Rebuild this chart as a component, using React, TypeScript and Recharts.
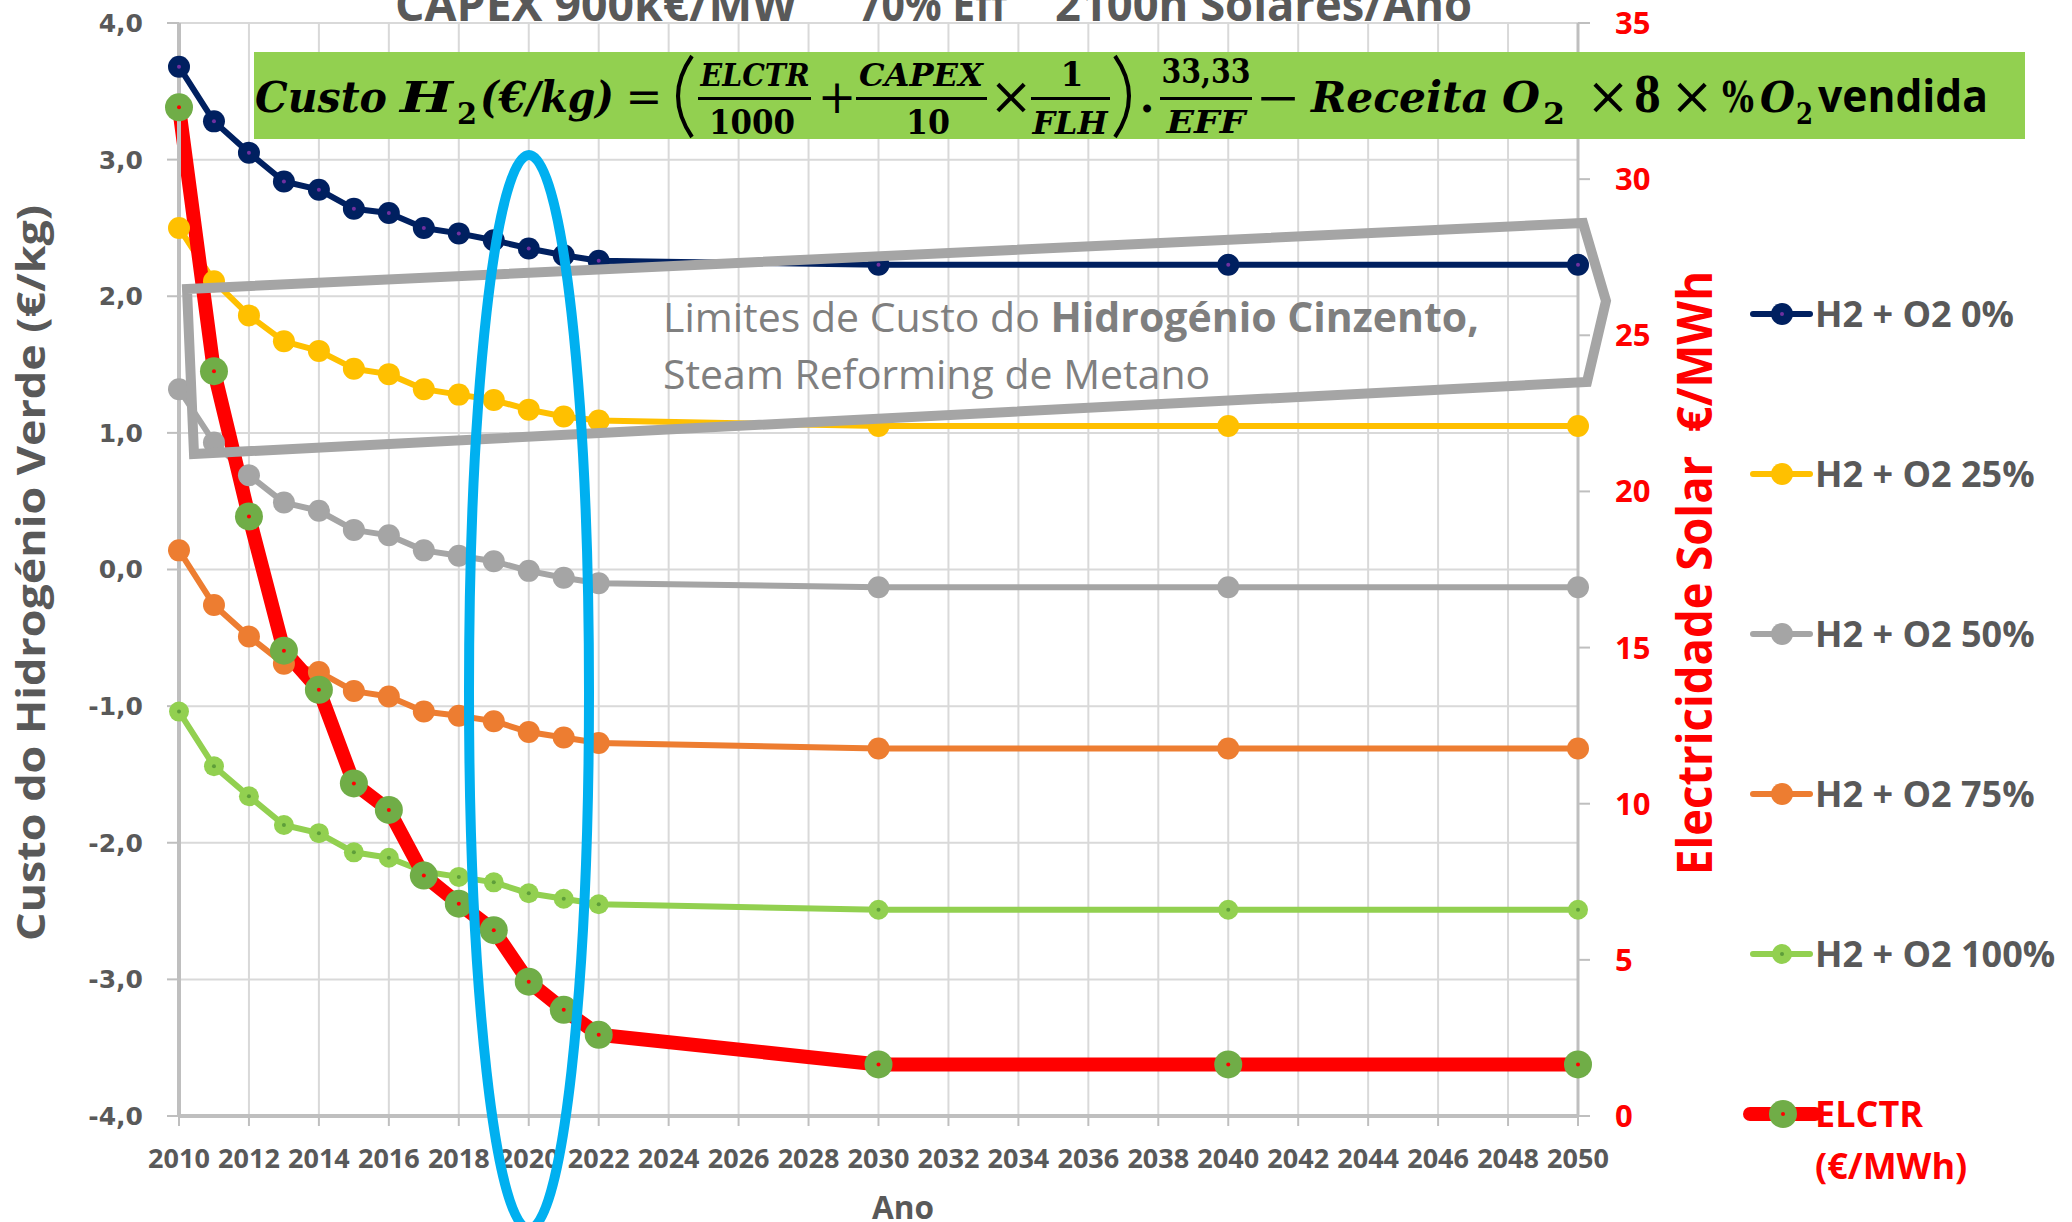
import React from 'react';
import { LineChart, Line, XAxis, YAxis, CartesianGrid, Legend } from 'recharts';

const YEARS = [2010, 2011, 2012, 2013, 2014, 2015, 2016, 2017, 2018, 2019, 2020, 2021, 2022, 2030, 2040, 2050];
const H2_O2_0 = [3.68, 3.28, 3.05, 2.84, 2.78, 2.64, 2.61, 2.5, 2.46, 2.41, 2.35, 2.3, 2.26, 2.23, 2.23, 2.23];
const H2_O2_25 = [2.5, 2.11, 1.86, 1.67, 1.6, 1.47, 1.43, 1.32, 1.28, 1.24, 1.17, 1.12, 1.09, 1.05, 1.05, 1.05];
const H2_O2_50 = [1.32, 0.93, 0.69, 0.49, 0.43, 0.29, 0.25, 0.14, 0.1, 0.06, -0.01, -0.06, -0.1, -0.13, -0.13, -0.13];
const H2_O2_75 = [0.14, -0.26, -0.49, -0.69, -0.75, -0.89, -0.93, -1.04, -1.07, -1.11, -1.19, -1.23, -1.27, -1.31, -1.31, -1.31];
const H2_O2_100 = [-1.04, -1.44, -1.66, -1.87, -1.93, -2.07, -2.11, -2.21, -2.25, -2.29, -2.37, -2.41, -2.45, -2.49, -2.49, -2.49];
const ELCTR = [32.3, 23.85, 19.2, 14.9, 13.65, 10.65, 9.8, 7.7, 6.8, 5.95, 4.3, 3.4, 2.6, 1.65, 1.65, 1.65];

const X_TICKS = [2010, 2012, 2014, 2016, 2018, 2020, 2022, 2024, 2026, 2028, 2030, 2032, 2034, 2036, 2038, 2040, 2042, 2044, 2046, 2048, 2050];
const LEFT_TICKS = [-4, -3, -2, -1, 0, 1, 2, 3, 4];
const RIGHT_TICKS = [0, 5, 10, 15, 20, 25, 30, 35];

const SERIES_NAMES = ['H2 + O2 0%', 'H2 + O2 25%', 'H2 + O2 50%', 'H2 + O2 75%', 'H2 + O2 100%', 'ELCTR (€/MWh)'];
const SERIES_KEYS = ['s0', 's25', 's50', 's75', 's100', 'elctr'];

const TITLE_PARTS = ['CAPEX 900k€/MW', '70% Eff', '2100h Solares/Ano'];
const LEFT_AXIS_TITLE = 'Custo do Hidrogénio Verde (€/kg)';
const RIGHT_AXIS_TITLE = 'Electricidade Solar  €/MWh';
const X_AXIS_TITLE = 'Ano';

const data = YEARS.map((year, i) => ({
  year,
  s0: H2_O2_0[i],
  s25: H2_O2_25[i],
  s50: H2_O2_50[i],
  s75: H2_O2_75[i],
  s100: H2_O2_100[i],
  elctr: ELCTR[i],
}));

const W = 2072;
const H = 1222;
const SANS = "'Open Sans', 'DejaVu Sans', sans-serif";
const SERIF = "'DejaVu Serif', 'Liberation Serif', serif";
const GRAY_TXT = '#595959';

type Style = { color: string; width: number; r: number; dotFill: string; center?: string; centerR?: number; axis: string };
const STYLES: Record<string, Style> = {
  s0: { color: '#002060', width: 6, r: 11, dotFill: '#002060', center: '#7030A0', centerR: 2, axis: 'left' },
  s25: { color: '#FFC000', width: 6, r: 11, dotFill: '#FFC000', axis: 'left' },
  s50: { color: '#A5A5A5', width: 6, r: 11, dotFill: '#A5A5A5', axis: 'left' },
  s75: { color: '#ED7D31', width: 6, r: 11, dotFill: '#ED7D31', axis: 'left' },
  s100: { color: '#92D050', width: 6, r: 10, dotFill: '#92D050', center: '#5E9E3A', centerR: 2, axis: 'left' },
  elctr: { color: '#FF0000', width: 14, r: 14, dotFill: '#70AD47', center: '#FF0000', centerR: 2, axis: 'right' },
};

const makeDot = (st: Style, k: string) => (props: any) => {
  const { cx, cy, index } = props;
  if (cx == null || cy == null) return <g key={`${k}-e-${index}`} />;
  return (
    <g key={`${k}-d-${index}`}>
      <circle cx={cx} cy={cy} r={st.r} fill={st.dotFill} />
      {st.center ? <circle cx={cx} cy={cy} r={st.centerR} fill={st.center} /> : null}
    </g>
  );
};

const LEGEND_Y = [314, 474, 634, 794, 954, 1114];
const LEGEND_LEFT = 1740;

const renderLegend = () => (
  <svg width={332} height={H} style={{ display: 'block' }}>
    {SERIES_KEYS.map((k, i) => {
      const st = STYLES[k];
      const y = LEGEND_Y[i];
      const isE = k === 'elctr';
      const name = SERIES_NAMES[i];
      return (
        <g key={k}>
          <line x1={isE ? 10 : 13} x2={isE ? 75 : 70} y1={y} y2={y} stroke={st.color} strokeWidth={isE ? 14 : 6} strokeLinecap="round" />
          <circle cx={isE ? 43 : 42} cy={y} r={isE ? 14 : st.r} fill={st.dotFill} />
          {st.center ? <circle cx={isE ? 43 : 42} cy={y} r={2} fill={st.center} /> : null}
          {isE ? (
            <text fontFamily={SANS} fontWeight={700} fontSize={36} fill="#FF0000">
              <tspan x={75} y={y + 13}>ELCTR</tspan>
              <tspan x={75} y={y + 65}>(€/MWh)</tspan>
            </text>
          ) : (
            <text x={75} y={y + 13} fontFamily={SANS} fontWeight={700} fontSize={36} fill={GRAY_TXT}>{name}</text>
          )}
        </g>
      );
    })}
  </svg>
);

function FT(p: { x: number; y: number; t: string; size?: number; it?: boolean; len?: number; anchor?: string; family?: string; weight?: number }) {
  const { x, y, t, size = 42, it = true, len, anchor = 'start', family = SERIF, weight = 700 } = p;
  return (
    <text
      x={x}
      y={y}
      fontFamily={family}
      fontSize={size}
      fontStyle={it ? 'italic' : 'normal'}
      fontWeight={weight}
      textAnchor={anchor as any}
      textLength={len}
      lengthAdjust={len ? 'spacingAndGlyphs' : undefined}
      fill="#000"
    >
      {t}
    </text>
  );
}

function Overlay() {
  return (
    <svg width={W} height={H} style={{ position: 'absolute', left: 0, top: 0, pointerEvents: 'none' }}>
      {/* title, cut at top as in the reference */}
      <g fontFamily={SANS} fontWeight={700} fontSize={46} fill={GRAY_TXT}>
        <text x={395} y={21} textLength={402} lengthAdjust="spacingAndGlyphs">{TITLE_PARTS[0]}</text>
        <text x={858} y={21} textLength={149} lengthAdjust="spacingAndGlyphs">{TITLE_PARTS[1]}</text>
        <text x={1055} y={21} textLength={417} lengthAdjust="spacingAndGlyphs">{TITLE_PARTS[2]}</text>
      </g>

      {/* formula box */}
      <rect x={254} y={52} width={1771} height={87} fill="#92D050" />
      <FT x={255} y={112} t="Custo" len={132} />
      <FT x={400} y={112} t="H" len={53} />
      <FT x={457} y={124} t="2" size={30} it={false} len={20} />
      <FT x={480} y={112} t="(€/kg)" len={134} />
      <FT x={644} y={112} t="=" anchor="middle" it={false} weight={400} size={44} />
      <path d="M 692 56 Q 664 96 692 137" fill="none" stroke="#000" strokeWidth={4} />
      <FT x={755} y={86} t="ELCTR" size={32} len={109} anchor="middle" />
      <rect x={698} y={97} width={113} height={3} fill="#000" />
      <FT x={752} y={134} t="1000" size={33} it={false} len={86} anchor="middle" />
      <FT x={837} y={113} t="+" anchor="middle" it={false} weight={400} size={46} />
      <FT x={921} y={86} t="CAPEX" size={32} len={124} anchor="middle" />
      <rect x={856} y={97} width={131} height={3} fill="#000" />
      <FT x={928} y={134} t="10" size={33} it={false} len={44} anchor="middle" />
      <FT x={1011} y={114} t="×" anchor="middle" it={false} weight={400} size={52} />
      <FT x={1072} y={86} t="1" size={33} it={false} anchor="middle" />
      <rect x={1031} y={97} width={79} height={3} fill="#000" />
      <FT x={1070} y={134} t="FLH" size={32} len={75} anchor="middle" />
      <path d="M 1115 56 Q 1143 96 1115 137" fill="none" stroke="#000" strokeWidth={4} />
      <FT x={1147} y={112} t="." it={false} anchor="middle" />
      <FT x={1206} y={83} t="33,33" size={33} it={false} len={89} anchor="middle" />
      <rect x={1160} y={97} width={92} height={3} fill="#000" />
      <FT x={1206} y={133} t="EFF" size={32} len={79} anchor="middle" />
      <FT x={1278} y={113} t="−" anchor="middle" it={false} weight={400} size={46} len={45} />
      <FT x={1311} y={112} t="Receita" len={178} />
      <FT x={1502} y={112} t="O" len={38} />
      <FT x={1543} y={124} t="2" size={30} it={false} len={22} />
      <FT x={1608} y={114} t="×" anchor="middle" it={false} weight={400} size={52} />
      <FT x={1634} y={112} t="8" size={48} it={false} len={27} />
      <FT x={1692} y={114} t="×" anchor="middle" it={false} weight={400} size={52} />
      <FT x={1722} y={112} t="%" it={false} len={32} />
      <FT x={1760} y={112} t="O" len={35} />
      <FT x={1796} y={124} t="2" size={30} it={false} len={17} />
      <FT x={1818} y={112} t="vendida" family={SANS} it={false} size={44} len={170} />

      {/* annotation */}
      <text fontFamily={SANS} fontSize={41} fill="#7F7F7F">
        <tspan x={663} y={332}>Limites de Custo do </tspan>
        <tspan fontWeight={700}>Hidrogénio Cinzento,</tspan>
        <tspan x={663} y={389}>Steam Reforming de Metano</tspan>
      </text>
      <polygon
        points="187,289 1583,223 1606,301 1587,382 194,454"
        fill="none"
        stroke="#A5A5A5"
        strokeWidth={10}
        strokeLinejoin="miter"
      />
      <ellipse cx={529} cy={692} rx={60} ry={537} fill="none" stroke="#00B0F0" strokeWidth={10} />

      {/* axis titles */}
      <text
        transform="translate(45,573) rotate(-90)"
        textAnchor="middle"
        fontFamily={SANS}
        fontWeight={700}
        fontSize={40}
        fill={GRAY_TXT}
        textLength={736}
        lengthAdjust="spacingAndGlyphs"
      >
        {LEFT_AXIS_TITLE}
      </text>
      <text
        transform="translate(1712,573) rotate(-90)"
        textAnchor="middle"
        fontFamily={SANS}
        fontWeight={700}
        fontSize={49}
        fill="#FF0000"
        textLength={604}
        lengthAdjust="spacingAndGlyphs"
        style={{ whiteSpace: 'pre' }}
      >
        {RIGHT_AXIS_TITLE}
      </text>
      <text x={903} y={1219} textAnchor="middle" fontFamily={SANS} fontWeight={700} fontSize={32} fill={GRAY_TXT} textLength={62} lengthAdjust="spacingAndGlyphs">
        {X_AXIS_TITLE}
      </text>
    </svg>
  );
}

const DRAW_ORDER = ['s100', 's75', 's50', 's25', 's0', 'elctr'];

export default function App() {
  return (
    <div style={{ position: 'absolute', left: 0, top: 0, width: W, height: H, background: '#fff', overflow: 'hidden' }}>
      <LineChart width={W} height={H} data={data} margin={{ top: 23, right: 0, bottom: 0, left: 0 }}>
        <CartesianGrid yAxisId="left" stroke="#D9D9D9" strokeWidth={2} />
        <XAxis
          dataKey="year"
          type="number"
          domain={[2010, 2050]}
          ticks={X_TICKS}
          interval={0}
          height={106}
          tickSize={10}
          tickMargin={23}
          axisLine={{ stroke: '#BFBFBF', strokeWidth: 4 }}
          tickLine={{ stroke: '#BFBFBF', strokeWidth: 2 }}
          tick={{ fill: GRAY_TXT, fontSize: 27, fontFamily: SANS, fontWeight: 700 }}
        />
        <YAxis
          yAxisId="left"
          domain={[-4, 4]}
          ticks={LEFT_TICKS}
          interval={0}
          width={179}
          tickSize={12}
          tickMargin={24}
          tickFormatter={(v: number) => v.toFixed(1).replace('.', ',')}
          axisLine={{ stroke: '#BFBFBF', strokeWidth: 4 }}
          tickLine={{ stroke: '#BFBFBF', strokeWidth: 2 }}
          tick={{ fill: GRAY_TXT, fontSize: 25, fontFamily: "'DejaVu Sans', sans-serif", fontWeight: 700 }}
        />
        <YAxis
          yAxisId="right"
          orientation="right"
          domain={[0, 35]}
          ticks={RIGHT_TICKS}
          interval={0}
          width={494}
          tickSize={12}
          tickMargin={25}
          axisLine={{ stroke: '#BFBFBF', strokeWidth: 3 }}
          tickLine={{ stroke: '#BFBFBF', strokeWidth: 2 }}
          tick={{ fill: '#FF0000', fontSize: 31, fontFamily: SANS, fontWeight: 700 }}
        />
        <Legend
          layout="vertical"
          align="center"
          verticalAlign="middle"
          wrapperStyle={{ left: LEGEND_LEFT, top: 0, width: 332, height: H }}
          content={renderLegend}
        />
        {DRAW_ORDER.map((k) => {
          const st = STYLES[k];
          return (
            <Line
              key={k}
              yAxisId={st.axis}
              type="linear"
              dataKey={k}
              name={SERIES_NAMES[SERIES_KEYS.indexOf(k)]}
              stroke={st.color}
              strokeWidth={st.width}
              strokeLinejoin="round"
              strokeLinecap="round"
              dot={makeDot(st, k)}
              activeDot={false}
              isAnimationActive={false}
            />
          );
        })}
      </LineChart>
      <Overlay />
    </div>
  );
}
